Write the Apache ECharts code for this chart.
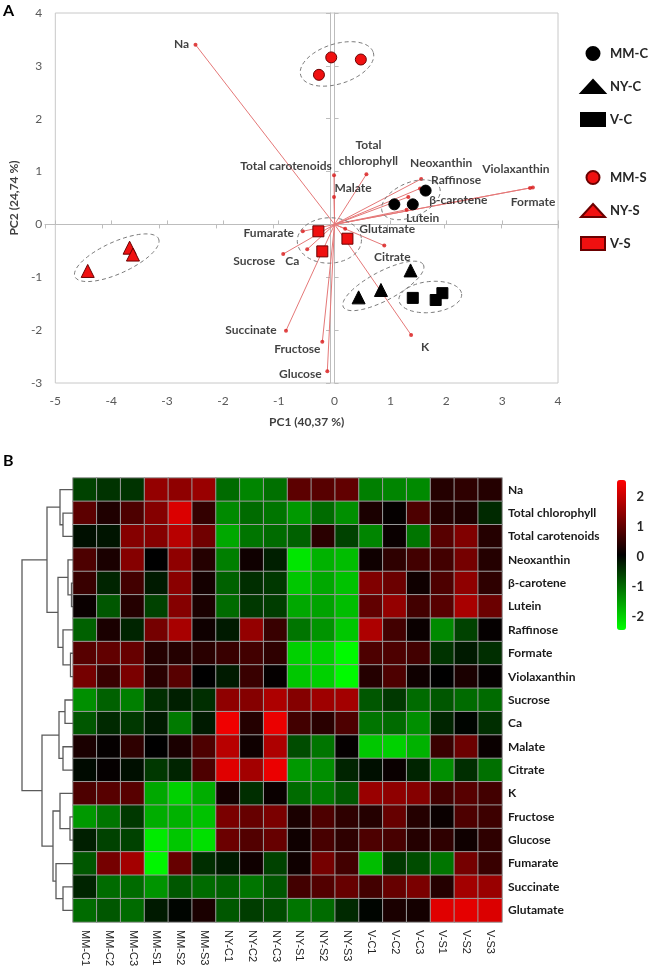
<!DOCTYPE html>
<html><head><meta charset="utf-8">
<script src="https://cdn.jsdelivr.net/npm/echarts@6/dist/echarts.min.js"></script>
<style>html,body{margin:0;padding:0;background:#fff}#c{width:649px;height:976px}</style>
</head><body><div id="c"></div>
<script>
const FONT = 'Lato, "Liberation Sans", sans-serif';

// ---------- Panel A data ----------
const scoreGroups = ['MM-C', 'NY-C', 'V-C', 'MM-S', 'NY-S', 'V-S'];
const scorePC1 = [
  [1.07, 1.40, 1.63],
  [0.43, 0.83, 1.36],
  [1.40, 1.81, 1.93],
  [-0.28, -0.06, 0.47],
  [-4.42, -3.67, -3.61],
  [-0.29, -0.22, 0.23]
];
const scorePC2 = [
  [0.38, 0.38, 0.64],
  [-1.38, -1.24, -0.87],
  [-1.39, -1.43, -1.30],
  [2.83, 3.16, 3.12],
  [-0.88, -0.44, -0.57],
  [-0.13, -0.51, -0.27]
];
const loadingNames = ['Na', 'Total carotenoids', 'Total chlorophyll', 'Malate', 'Neoxanthin', 'Raffinose',
  'β-carotene', 'Lutein', 'Violaxanthin', 'Formate', 'Glutamate', 'Citrate', 'K', 'Fumarate',
  'Sucrose', 'Ca', 'Succinate', 'Fructose', 'Glucose'];
const loadingPC1 = [-2.49, -0.01, 0.57, -0.01, 1.55, 1.53, 1.32, 1.29, 3.55, 3.50, 0.19, 0.89, 1.37, -0.57, -0.92, -0.49, -0.87, -0.22, -0.13];
const loadingPC2 = [3.40, 0.93, 0.95, 0.52, 0.86, 0.68, 0.52, 0.28, 0.70, 0.69, -0.08, -0.40, -2.09, -0.13, -0.56, -0.47, -2.01, -2.22, -2.78];
const pcTicksX = [-5, 4];
const pcTicksY = [-3, 4];

// ---------- Panel B data ----------
const sampleNames = ['MM-C1','MM-C2','MM-C3','MM-S1','MM-S2','MM-S3','NY-C1','NY-C2','NY-C3',
  'NY-S1','NY-S2','NY-S3','V-C1','V-C2','V-C3','V-S1','V-S2','V-S3'];
const variableNames = ['Na','Total chlorophyll','Total carotenoids','Neoxanthin','β-carotene','Lutein',
  'Raffinose','Formate','Violaxanthin','Sucrose','Ca','Malate','Citrate','K','Fructose','Glucose',
  'Fumarate','Succinate','Glutamate'];
const heatValues = [
  [-0.6,-0.45,-0.45,1.5,1.45,1.55,-1.0,-1.25,-1.05,0.95,0.9,1.0,-1.2,-1.25,-1.3,0.4,0.5,0.4],
  [0.95,0.35,0.8,1.35,2.2,0.55,-1.3,-1.0,-1.1,-1.45,-1.0,-1.35,0.3,0.1,0.8,0.4,0.35,-0.35],
  [-0.1,-0.15,1.35,1.35,1.85,1.15,-1.6,-1.1,-1.0,-0.9,0.45,-0.6,-1.25,0.15,-1.1,0.9,1.3,0.4],
  [0.8,0.3,1.35,0.05,1.45,0.4,-1.2,0.2,-0.25,-2.2,-1.7,-1.8,0.2,0.5,0.7,0.7,1.2,0.4],
  [0.6,-0.3,0.7,-0.2,1.4,0.25,-0.9,-0.4,-0.5,-1.9,-1.6,-1.85,1.3,1.1,0.2,0.8,1.45,0.5],
  [0.15,-0.8,0.4,-0.6,1.35,0.3,-1.0,-0.5,-0.55,-1.6,-1.55,-1.8,1.0,1.5,0.7,0.9,1.7,1.1],
  [-0.9,0.3,-0.3,1.2,1.7,0.2,-0.2,1.5,0.6,-1.1,-1.4,-1.9,1.75,0.7,0.15,-1.3,-0.6,0.1],
  [0.9,1.0,1.05,0.4,0.4,0.45,0.6,0.7,0.5,-2.0,-2.0,-2.4,0.8,0.8,0.7,-0.45,-0.2,-0.4],
  [1.2,0.6,1.25,0.45,0.9,0.05,-0.2,0.6,0.1,-1.9,-2.0,-2.4,0.4,0.8,0.2,0.05,0.3,0.1],
  [-1.35,-0.9,-1.2,-0.4,-0.25,-0.4,1.45,1.35,1.75,1.35,1.6,1.65,-0.8,-0.5,-1.0,-0.8,-1.0,-1.0],
  [-0.8,-0.35,-0.5,-0.2,-1.15,-0.2,2.4,0.4,2.35,0.7,0.45,0.8,-1.1,-1.0,-1.35,-0.3,0.0,-0.4],
  [0.3,0.1,0.5,0.05,0.3,0.8,1.85,0.2,1.75,-0.7,-1.1,0.1,-1.9,-2.0,-1.7,0.6,1.1,0.15],
  [-0.05,0.1,-0.1,-0.5,-0.3,0.8,2.25,1.65,2.35,-1.45,-1.35,-0.3,-0.1,0.15,-0.3,-1.35,-0.4,-1.05],
  [0.8,0.9,0.9,-1.6,-2.0,-1.65,0.25,-0.4,0.15,-1.0,-1.15,-0.8,1.55,1.45,1.35,0.7,0.9,0.7],
  [-1.45,-1.1,-0.5,-1.65,-1.7,-1.85,1.25,1.05,1.25,0.3,0.8,0.5,0.4,1.05,0.4,0.15,0.8,0.65],
  [-0.25,-0.6,-0.6,-2.25,-1.9,-2.15,1.1,0.85,1.05,0.2,0.75,0.5,0.8,0.75,0.4,0.5,0.2,0.5],
  [-0.8,1.2,1.65,-2.35,1.05,-0.4,-0.2,0.2,-0.6,0.2,1.2,0.7,-1.8,-0.5,-0.7,-1.1,1.2,0.6],
  [-0.3,-1.0,-1.0,-1.4,-0.8,-1.0,-0.9,-1.1,-0.8,0.7,0.85,1.05,0.7,1.05,1.25,0.4,1.65,1.55],
  [-1.0,-0.8,-1.0,-0.2,0.0,0.3,-0.8,-0.55,-0.7,-1.1,-1.0,-0.35,0.0,0.3,0.25,2.25,2.3,2.2]
];
// dendrogram merges: [nodeA, nodeB, height]; leaves are 0..18, new nodes numbered from 19
const dendroMerges = [
  [1,2,10],[0,19,13],[4,5,1.5],[3,21,5],[7,8,2.5],[6,23,10],[22,24,15],[20,25,26],
  [9,10,8],[11,12,10],[27,28,14],[14,15,3],[13,30,13],[17,18,10],[16,32,17],[31,33,20],
  [29,34,31],[26,35,51]
];
const colorbarTicks = [-2, 2];

// ---------- styling (not data) ----------
const labelOffsets = {
  'Na':[-14,-1],'Total carotenoids':[-48,-9],'Total chlorophyll':[2,-21],'Malate':[19,-9],
  'Neoxanthin':[20,-16],'Raffinose':[36,-8],'β-carotene':[50,3],'Lutein':[16,8],
  'Violaxanthin':[-17,-18],'Formate':[3,14],'Glutamate':[42,0],'Citrate':[8,12],'K':[14,12],
  'Fumarate':[-34,2],'Sucrose':[-29,7],'Ca':[-15,12],'Succinate':[-35,-1],'Fructose':[-25,7],'Glucose':[-27,3]
};
const labelText = {'Total chlorophyll':'Total\nchlorophyll'};
const groupStyle = {
  'MM-C':{symbol:'circle',size:11,color:'#000',border:'#000'},
  'NY-C':{symbol:'triangle',size:13,color:'#000',border:'#000'},
  'V-C':{symbol:'rect',size:11,color:'#000',border:'#000'},
  'MM-S':{symbol:'circle',size:11,color:'#f01010',border:'#6a0000'},
  'NY-S':{symbol:'triangle',size:13,color:'#f01010',border:'#6a0000'},
  'V-S':{symbol:'rect',size:11,color:'#f01010',border:'#6a0000'}
};

// dendrogram segments
const dNodes = variableNames.map((n,i)=>({y:i,h:0}));
const dendroLines = [];
dendroMerges.forEach(m=>{
  const a = dNodes[m[0]], b = dNodes[m[1]], h = m[2];
  dendroLines.push({coords:[[a.h,a.y],[h,a.y],[h,b.y],[b.h,b.y]]});
  dNodes.push({y:(a.y+b.y)/2,h:h});
});

const heatData = [];
heatValues.forEach((row,r)=>row.forEach((v,c)=>heatData.push([c,r,v])));

const tickLbl = {color:'#595959',fontSize:12,fontFamily:FONT};
const zeroLine = {show:true,onZero:true,lineStyle:{color:'#bdbdbd',width:1}};
const zeroTick = {show:true,length:4,lineStyle:{color:'#bdbdbd',width:1}};

const series = [];
series.push({
  type:'lines', coordinateSystem:'cartesian2d', xAxisIndex:0, yAxisIndex:0, silent:true, z:2,
  lineStyle:{color:'#e57878',width:1,opacity:1},
  data: loadingNames.map((n,i)=>({coords:[[0,0],[loadingPC1[i],loadingPC2[i]]]}))
});
series.push({
  type:'scatter', xAxisIndex:0, yAxisIndex:0, symbolSize:4, z:3, silent:true,
  itemStyle:{color:'#d81818'},
  label:{show:true,position:'inside',fontFamily:FONT,fontWeight:'bold',fontSize:12,color:'#111',
    textBorderWidth:0,textBorderColor:'transparent',lineHeight:16,align:'center',
    formatter:p=>labelText[p.name]||p.name},
  data: loadingNames.map((n,i)=>({name:n,value:[loadingPC1[i],loadingPC2[i]],label:{offset:labelOffsets[n]}}))
});
series.push({
  type:'custom', coordinateSystem:'cartesian2d', xAxisIndex:0, yAxisIndex:0, silent:true, z:4, clip:false,
  data: scoreGroups.map(()=>[0,0]),
  renderItem:(params,api)=>{
    const g = params.dataIndex;
    const pts = scorePC1[g].map((x,i)=>api.coord([x,scorePC2[g][i]]));
    const n = pts.length;
    const mx = pts.reduce((s,p)=>s+p[0],0)/n, my = pts.reduce((s,p)=>s+p[1],0)/n;
    let sxx=0,syy=0,sxy=0;
    pts.forEach(p=>{const dx=p[0]-mx,dy=p[1]-my;sxx+=dx*dx;syy+=dy*dy;sxy+=dx*dy;});
    const th = 0.5*Math.atan2(2*sxy,sxx-syy);
    const ux=Math.cos(th),uy=Math.sin(th);
    let pa=0,pb=0;
    pts.forEach(p=>{const dx=p[0]-mx,dy=p[1]-my;pa=Math.max(pa,Math.abs(dx*ux+dy*uy));pb=Math.max(pb,Math.abs(-dx*uy+dy*ux));});
    const a=pa+14,b=pb+12;
    const poly=[];
    for(let k=0;k<72;k++){const t=k/72*2*Math.PI;const ex=a*Math.cos(t),ey=b*Math.sin(t);poly.push([mx+ex*ux-ey*uy,my+ex*uy+ey*ux]);}
    return {type:'polygon',shape:{points:poly},style:{fill:'none',stroke:'#7a7a7a',lineWidth:1,lineDash:[4,3]}};
  }
});
scoreGroups.forEach((g,gi)=>{
  const st = groupStyle[g];
  series.push({
    name:g, type:'scatter', xAxisIndex:0, yAxisIndex:0, z:5, symbol:st.symbol, symbolSize:st.size,
    itemStyle:{color:st.color,borderColor:st.border,borderWidth:1,opacity:1},
    data: scorePC1[gi].map((x,i)=>[x,scorePC2[gi][i]])
  });
});
series.push({
  type:'heatmap', xAxisIndex:3, yAxisIndex:3, data:heatData, silent:true,
  itemStyle:{borderColor:'#9a9a9a',borderWidth:1}
});
series.push({
  type:'lines', coordinateSystem:'cartesian2d', xAxisIndex:4, yAxisIndex:4, polyline:true, silent:true,
  lineStyle:{color:'#5a5a5a',width:1.3,opacity:1}, data:dendroLines
});
const heatSeriesIndex = series.findIndex(s=>s.type==='heatmap');

const legendCommon = {orient:'vertical',left:575,itemWidth:24,itemHeight:13,itemGap:18,selectedMode:false,
  textStyle:{fontFamily:FONT,fontWeight:'bold',fontSize:13,color:'#262626'}};

const option = {
  animation:false,
  backgroundColor:'#fff',
  textStyle:{fontFamily:FONT},
  graphic:[
    {type:'text',left:3,top:3,style:{text:'A',font:'bold 16px '+FONT,fill:'#000'}},
    {type:'text',left:3,top:453,style:{text:'B',font:'bold 16px '+FONT,fill:'#000'}}
  ],
  legend:[
    Object.assign({data:scoreGroups.slice(0,3),top:41},legendCommon),
    Object.assign({data:scoreGroups.slice(3),top:165},legendCommon)
  ],
  grid:[
    {left:45,top:13,width:513,height:370,show:true,borderColor:'#c8c8c8',borderWidth:1,backgroundColor:'transparent'},
    {left:45,top:13,width:513,height:370},
    {left:73,top:478,width:429,height:444},
    {left:21,top:478,width:52,height:444},
    {left:646,top:497,width:1,height:120}
  ],
  xAxis:[
    {gridIndex:0,type:'value',min:pcTicksX[0],max:pcTicksX[1],interval:1,position:'bottom',
      axisLine:{show:false,onZero:false},axisTick:{show:false},splitLine:{show:false},
      axisLabel:Object.assign({margin:12},tickLbl),
      name:'PC1 (40,37 %)',nameLocation:'middle',nameGap:33,
      nameTextStyle:{fontFamily:FONT,fontWeight:'bold',fontSize:12,color:'#404040'}},
    {gridIndex:0,type:'value',min:pcTicksX[0],max:pcTicksX[1],interval:1,position:'top',
      axisLine:zeroLine,axisTick:zeroTick,axisLabel:{show:false},splitLine:{show:false}},
    {gridIndex:1,type:'value',min:pcTicksX[0],max:pcTicksX[1],interval:1,position:'bottom',
      axisLine:zeroLine,axisTick:zeroTick,axisLabel:{show:false},splitLine:{show:false}},
    {gridIndex:2,type:'category',data:sampleNames,position:'bottom',
      axisLine:{show:false},axisTick:{show:false},splitLine:{show:false},
      axisLabel:{rotate:-90,interval:0,margin:8,fontSize:11,color:'#222',fontFamily:'"Liberation Sans", sans-serif'}},
    {gridIndex:3,type:'value',min:0,max:52,inverse:true,show:false},
    {gridIndex:4,type:'value',show:false}
  ],
  yAxis:[
    {gridIndex:0,type:'value',min:pcTicksY[0],max:pcTicksY[1],interval:1,position:'left',
      axisLine:{show:false,onZero:false},axisTick:{show:false},splitLine:{show:false},
      axisLabel:Object.assign({margin:13},tickLbl),
      name:'PC2 (24,74 %)',nameLocation:'middle',nameGap:27,
      nameTextStyle:{fontFamily:FONT,fontWeight:'bold',fontSize:12,color:'#404040'}},
    {gridIndex:0,type:'value',min:pcTicksY[0],max:pcTicksY[1],interval:1,position:'right',
      axisLine:zeroLine,axisTick:zeroTick,axisLabel:{show:false},splitLine:{show:false}},
    {gridIndex:1,type:'value',min:pcTicksY[0],max:pcTicksY[1],interval:1,position:'left',
      axisLine:zeroLine,axisTick:zeroTick,axisLabel:{show:false},splitLine:{show:false}},
    {gridIndex:2,type:'category',data:variableNames,inverse:true,position:'right',
      axisLine:{show:false},axisTick:{show:false},splitLine:{show:false},
      axisLabel:{margin:6,fontSize:12,fontWeight:'bold',color:'#1a1a1a',fontFamily:FONT}},
    {gridIndex:3,type:'value',min:-0.5,max:18.5,inverse:true,show:false},
    {gridIndex:4,type:'value',min:colorbarTicks[0],max:colorbarTicks[1],interval:1,position:'left',
      axisLine:{show:false},axisTick:{show:false},splitLine:{show:false},
      axisLabel:{margin:2,fontSize:13,fontWeight:'bold',color:'#262626',fontFamily:FONT}}
  ],
  visualMap:{
    type:'continuous',seriesIndex:heatSeriesIndex,min:-2.45,max:2.55,calculable:false,
    left:617,top:480,itemWidth:9,itemHeight:150,padding:0,showLabel:false,
    inRange:{color:['#00ff00','#000000','#ff0000']}
  },
  series:series
};
const chart = echarts.init(document.getElementById('c'),null,{renderer:'canvas'});
chart.setOption(option);
</script></body></html>
